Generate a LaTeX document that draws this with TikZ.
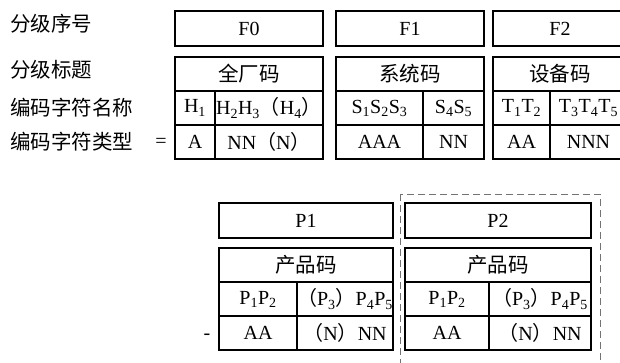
\documentclass[tikz,border=0pt]{standalone}
\usepackage{fontspec}
\setmainfont{Liberation Serif}
\newfontfamily\cjk{Noto Sans CJK SC}
\newcommand{\zlp}{{\cjk （}}
\newcommand{\zrp}{{\cjk ）}}
\tikzset{
  cell/.style={draw, line width=1.2pt, anchor=north west, inner sep=0pt, outer sep=0pt,
    minimum height=34pt, font=\fontsize{20}{22}\selectfont},
  headbox/.style={cell, minimum height=35pt},
  zhcell/.style={cell, font=\cjk\fontsize{20.5}{22}\selectfont},
  rowlabel/.style={anchor=west, inner sep=0pt, font=\cjk\fontsize{20.5}{22}\selectfont},
  sign/.style={inner sep=0pt, font=\fontsize{20}{22}\selectfont},
  dashframe/.style={draw=black!55, line width=1pt, dash pattern=on 7pt off 4pt},
}
\begin{document}
\begin{tikzpicture}[x=1pt,y=-1pt]
  \clip (0,0) rectangle (620,362);
  % row labels
  \node[rowlabel] (lbno) at (10,24) {分级序号};
  \node[rowlabel] (lbtitle) at (10,70) {分级标题};
  \node[rowlabel] (lbname) at (10,108) {编码字符名称};
  \node[rowlabel] (lbtype) at (10,142) {编码字符类型};
  \node[sign] (eqsign) at (161,143) {=};
  % F0
  \node[headbox, minimum width=148pt] (F0) at (175,11) {F0};
  \node[zhcell, minimum width=148pt] (F0title) at (175,57) {全厂码};
  \node[cell, minimum width=40pt] (F0na) at (175,91) {H\textsubscript{1}};
  \node[cell, minimum width=108pt] (F0nb) at (215,91) {H\textsubscript{2}H\textsubscript{3}\zlp H\textsubscript{4}\zrp};
  \node[cell, minimum width=40pt] (F0ta) at (175,125) {A};
  \node[cell, minimum width=108pt] (F0tb) at (215,125) {NN\zlp N\zrp};
  % F1
  \node[headbox, minimum width=148pt] (F1) at (336,11) {F1};
  \node[zhcell, minimum width=148pt] (F1title) at (336,57) {系统码};
  \node[cell, minimum width=87pt] (F1na) at (336,91) {S\textsubscript{1}S\textsubscript{2}S\textsubscript{3}};
  \node[cell, minimum width=61pt] (F1nb) at (423,91) {S\textsubscript{4}S\textsubscript{5}};
  \node[cell, minimum width=87pt] (F1ta) at (336,125) {AAA};
  \node[cell, minimum width=61pt] (F1tb) at (423,125) {NN};
  % F2
  \node[headbox, minimum width=134pt] (F2) at (493,11) {F2};
  \node[zhcell, minimum width=134pt] (F2title) at (493,57) {设备码};
  \node[cell, minimum width=57pt] (F2na) at (493,91) {T\textsubscript{1}T\textsubscript{2}};
  \node[cell, minimum width=77pt] (F2nb) at (550,91) {T\textsubscript{3}T\textsubscript{4}T\textsubscript{5}};
  \node[cell, minimum width=57pt] (F2ta) at (493,125) {AA};
  \node[cell, minimum width=77pt] (F2tb) at (550,125) {NNN};
  % P1
  \node[sign] (dashsign) at (207,337) {-};
  \node[headbox, minimum width=174pt] (P1) at (219,203) {P1};
  \node[zhcell, minimum width=174pt] (P1title) at (219,248) {产品码};
  \node[cell, minimum width=78pt] (P1na) at (219,282) {P\textsubscript{1}P\textsubscript{2}};
  \node[cell, minimum width=96pt] (P1nb) at (297,282) {\zlp P\textsubscript{3}\zrp P\textsubscript{4}P\textsubscript{5}};
  \node[cell, minimum width=78pt] (P1ta) at (219,316) {AA};
  \node[cell, minimum width=96pt] (P1tb) at (297,316) {\zlp N\zrp NN};
  % P2
  \draw[dashframe] (400,194) rectangle (600,375);
  \node[headbox, minimum width=186pt] (P2) at (405,203) {P2};
  \node[zhcell, minimum width=186pt] (P2title) at (405,248) {产品码};
  \node[cell, minimum width=84pt] (P2na) at (405,282) {P\textsubscript{1}P\textsubscript{2}};
  \node[cell, minimum width=102pt] (P2nb) at (489,282) {\zlp P\textsubscript{3}\zrp P\textsubscript{4}P\textsubscript{5}};
  \node[cell, minimum width=84pt] (P2ta) at (405,316) {AA};
  \node[cell, minimum width=102pt] (P2tb) at (489,316) {\zlp N\zrp NN};
\end{tikzpicture}
\end{document}
